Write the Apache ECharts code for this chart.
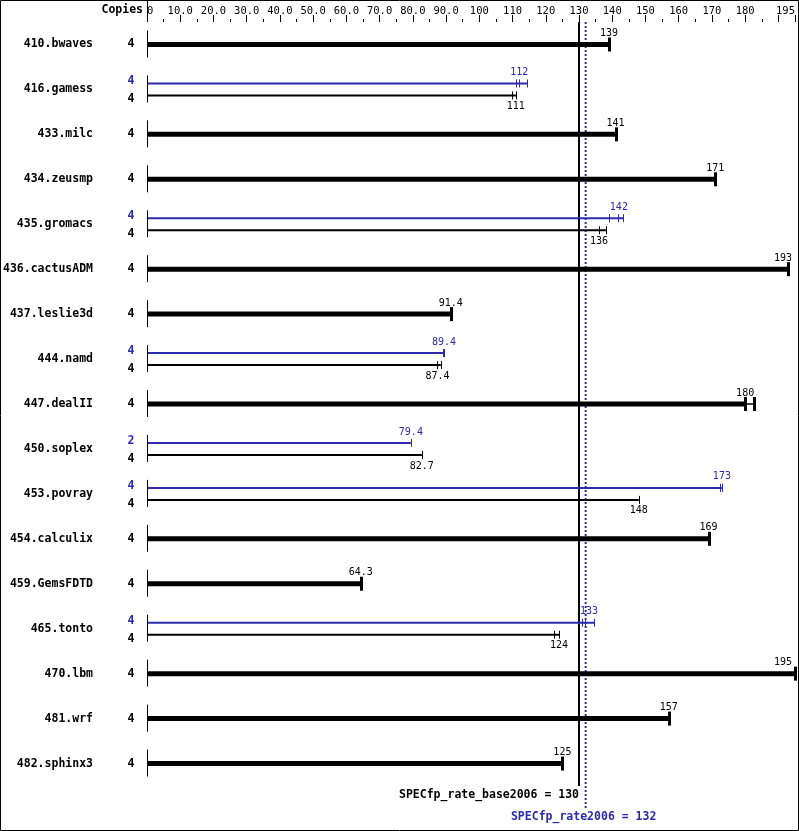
<!DOCTYPE html>
<html>
<head>
<meta charset="utf-8">
<script src="https://cdn.jsdelivr.net/npm/echarts@6/dist/echarts.min.js"></script>
<style>
  html, body { margin: 0; padding: 0; background: #fff; }
  #chart { width: 799px; height: 831px; }
</style>
</head>
<body>
<div id="chart"></div>
<script>
const BLUE = '#2b2bab'
const MONO = '"DejaVu Sans Mono", monospace'

const benchmarks = ['410.bwaves', '416.gamess', '433.milc', '434.zeusmp', '435.gromacs', '436.cactusADM',
  '437.leslie3d', '444.namd', '447.dealII', '450.soplex', '453.povray', '454.calculix', '459.GemsFDTD',
  '465.tonto', '470.lbm', '481.wrf', '482.sphinx3']
const baseRatio = [139, 111, 141, 171, 136, 193, 91.4, 87.4, 180, 82.7, 148, 169, 64.3, 124, 195, 157, 125]
const peakRatio = [null, 112, null, null, 142, null, null, 89.4, null, 79.4, 173, null, null, 133, null, null, null]
const baseCopies = [4, 4, 4, 4, 4, 4, 4, 4, 4, 4, 4, 4, 4, 4, 4, 4, 4]
const peakCopies = [null, 4, null, null, 4, null, null, 4, null, 2, 4, null, null, 4, null, null, null]
// single run results, drawn as tick marks
const baseRuns = [[139], [109.9, 111], [141], [171], [136, 138.1], [193], [91.4], [87.3, 88.4], [180, 182.7],
  [82.7], [148], [169], [64.3], [122.6, 124], [195], [157], [125]]
const peakRuns = [null, [111, 112, 114.4], null, null, [139, 141.8, 143.3], null, null, [89.2, 89.5], null,
  [79.4], [172.3, 172.9], null, null, [131, 131.7, 134.6], null, null, null]
const tickLabels = ['0', '10.0', '20.0', '30.0', '40.0', '50.0', '60.0', '70.0', '80.0', '90.0', '100',
  '110', '120', '130', '140', '150', '160', '170', '180', '', '195']
const refValues = [130, 132]
const refLabels = ['SPECfp_rate_base2006 = 130', 'SPECfp_rate2006 = 132']

// one entry per drawn bar
const items = []
benchmarks.forEach((b, i) => {
  if (peakRatio[i] == null) {
    items.push({ row: i, kind: 'single', value: baseRatio[i], runs: baseRuns[i], copies: baseCopies[i] })
  } else {
    items.push({ row: i, kind: 'peak', value: peakRatio[i], runs: peakRuns[i], copies: peakCopies[i] })
    items.push({ row: i, kind: 'base', value: baseRatio[i], runs: baseRuns[i], copies: baseCopies[i] })
  }
})

function renderBar(params, api) {
  const it = items[params.dataIndex]
  const c = api.coord([0, it.row])
  const x0 = c[0]
  const yc = c[1]
  const thick = it.kind === 'single'
  const y = yc + (it.kind === 'peak' ? -6 : it.kind === 'base' ? 6 : 0)
  const color = it.kind === 'peak' ? BLUE : '#000'
  const xv = api.coord([it.value, it.row])[0]
  const xm = api.coord([Math.max(it.value, ...it.runs), it.row])[0]
  const h = thick ? 5 : 2
  const children = []
  children.push({ type: 'rect', shape: { x: x0, y: y - h / 2, width: (thick ? xv : xm) - x0, height: h }, style: { fill: color } })
  if (thick && xm > xv + 0.5) {
    children.push({ type: 'line', shape: { x1: xv, y1: y, x2: xm, y2: y }, style: { stroke: color, lineWidth: 1.5 } })
  }
  it.runs.forEach(r => {
    const xr = Math.round(api.coord([r, it.row])[0]) + 0.5
    children.push({
      type: 'line',
      shape: { x1: xr, y1: y - (thick ? 7 : 4), x2: xr, y2: y + (thick ? 7 : 4) },
      style: { stroke: color, lineWidth: thick ? 3 : 1 }
    })
  })
  children.push({
    type: 'text',
    style: {
      text: String(it.value), x: Math.min(xv, 783), y: it.kind === 'base' ? y + 11 : y - 11,
      font: '10px ' + MONO, fill: color, align: 'center', verticalAlign: 'middle'
    }
  })
  children.push({
    type: 'text',
    style: {
      text: String(it.copies), x: x0 - 16, y: yc + (it.kind === 'peak' ? -8 : it.kind === 'base' ? 10 : 0),
      font: 'bold 11.5px ' + MONO, fill: color, align: 'center', verticalAlign: 'middle'
    }
  })
  if (it.kind !== 'base') {
    children.push({ type: 'line', shape: { x1: x0 + 0.5, y1: yc - 14, x2: x0 + 0.5, y2: yc + 13 }, style: { stroke: '#000', lineWidth: 1 } })
  }
  return { type: 'group', children }
}

function renderRef(params, api) {
  const i = params.dataIndex
  const half = api.size([0, 1])[1] / 2
  const top = api.coord([0, 0])[1] - half
  const bottom = api.coord([0, benchmarks.length - 1])[1] + half
  const x = api.coord([refValues[i], 0])[0]
  const children = []
  if (i === 0) {
    const x0 = api.coord([0, 0])[0] + 0.5
    children.push({ type: 'line', shape: { x1: x0, y1: 0, x2: x0, y2: top }, style: { stroke: '#000', lineWidth: 1 } })
    children.push({ type: 'line', shape: { x1: x, y1: top, x2: x, y2: bottom }, style: { stroke: '#000', lineWidth: 2 } })
    children.push({
      type: 'text',
      style: { text: refLabels[i], x: x, y: bottom + 9, font: 'bold 11.5px ' + MONO, fill: '#000', align: 'right', verticalAlign: 'middle' }
    })
  } else {
    children.push({ type: 'line', shape: { x1: x, y1: top, x2: x, y2: bottom + 22 }, style: { stroke: BLUE, lineWidth: 2, lineDash: [2, 2] } })
    children.push({
      type: 'text',
      style: { text: refLabels[i], x: x - 2, y: bottom + 31, font: 'bold 11.5px ' + MONO, fill: BLUE, align: 'center', verticalAlign: 'middle' }
    })
  }
  return { type: 'group', children }
}

const chart = echarts.init(document.getElementById('chart'))
chart.setOption({
  animation: false,
  backgroundColor: '#fff',
  grid: { left: 147, right: 4, top: 22, bottom: 45, containLabel: false },
  xAxis: {
    type: 'value',
    position: 'top',
    min: 0,
    max: 195,
    interval: 10,
    axisLine: { show: false },
    axisTick: { show: true, length: 7, lineStyle: { color: '#000', width: 1 } },
    minorTick: { show: true, splitNumber: 2, length: 3, lineStyle: { color: '#000', width: 1 } },
    splitLine: { show: false },
    minorSplitLine: { show: false },
    axisLabel: {
      margin: 5,
      color: '#000',
      fontFamily: 'DejaVu Sans Mono',
      fontSize: 10.5,
      alignMinLabel: 'left',
      alignMaxLabel: 'right',
      showMaxLabel: true,
      formatter: (v, idx) => tickLabels[idx] !== undefined ? tickLabels[idx] : ''
    }
  },
  yAxis: {
    type: 'category',
    inverse: true,
    data: benchmarks,
    axisLine: { show: false },
    axisTick: { show: false },
    splitLine: { show: false },
    axisLabel: {
      margin: 54,
      color: '#000',
      fontFamily: 'DejaVu Sans Mono',
      fontWeight: 'bold',
      fontSize: 11.5
    }
  },
  graphic: [
    { type: 'rect', shape: { x: 0.5, y: 0.5, width: 798, height: 830 }, style: { fill: 'none', stroke: '#000', lineWidth: 1 }, z: 100 },
    { type: 'text', x: 143, y: 10, style: { text: 'Copies', font: 'bold 11.5px ' + MONO, fill: '#000', align: 'right', verticalAlign: 'middle' } }
  ],
  series: [
    {
      type: 'custom',
      coordinateSystem: 'cartesian2d',
      renderItem: renderRef,
      encode: { x: 0, y: 1 },
      data: refValues.map(v => [v, 0]),
      z: 1
    },
    {
      type: 'custom',
      coordinateSystem: 'cartesian2d',
      renderItem: renderBar,
      encode: { x: 0, y: 1 },
      data: items.map(it => [it.value, it.row]),
      z: 2
    }
  ]
})
</script>
</body>
</html>
